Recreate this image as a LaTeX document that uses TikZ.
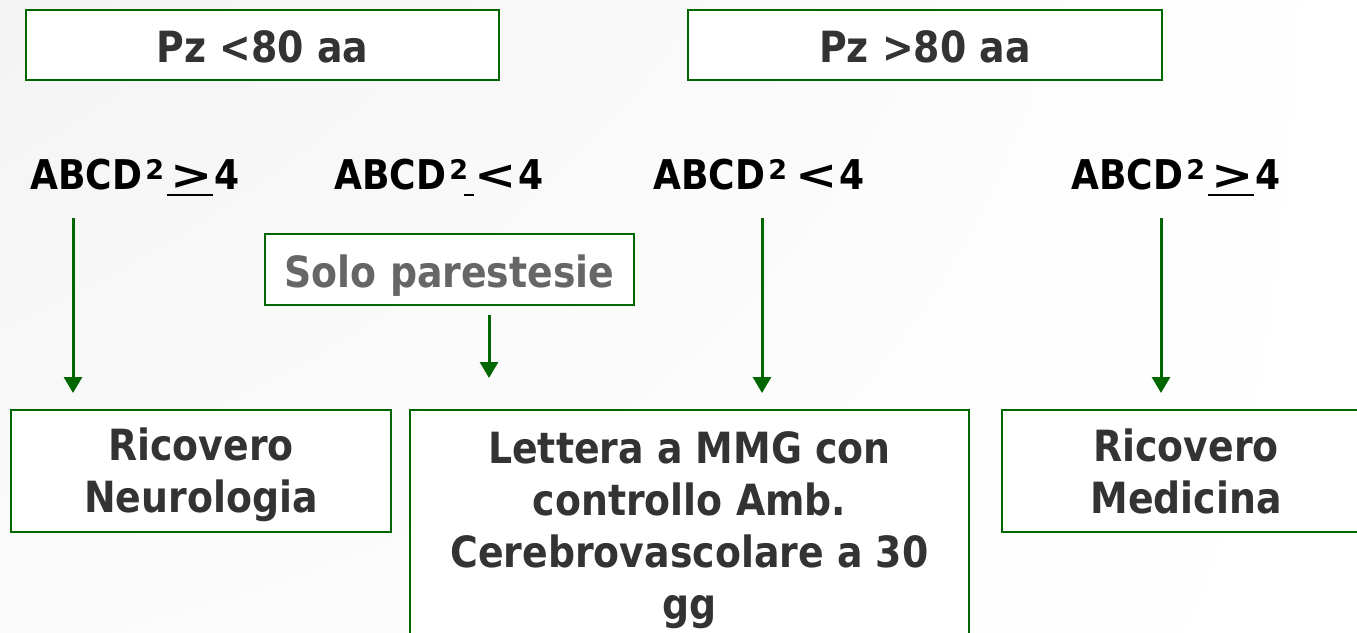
\documentclass[tikz,border=0pt]{standalone}
\usepackage{graphicx}
\usepackage{fontspec}
\setmainfont{DejaVu Sans}[FakeStretch=0.88]
\newfontfamily\supfont{DejaVu Sans}
\usetikzlibrary{arrows.meta,shadings}

\definecolor{boxgreen}{RGB}{0,102,0}
\definecolor{boxtext}{RGB}{51,51,51}
\definecolor{softtext}{RGB}{102,102,102}

% pieces of the ABCD2 score labels
\newcommand\sqtwo{\kern3pt\raisebox{10pt}{\supfont\bfseries\fontsize{27}{27}\selectfont 2}}
\newcommand\widesign[1]{\scalebox{1.4}[1]{#1}}
\newcommand\ulgeq{\rlap{\kern-3pt\rule[-6.5pt]{46pt}{2pt}}\widesign{>}}

\tikzset{
  frame/.style={draw=boxgreen, line width=2pt, fill=white, inner sep=0pt,
    align=center, text=boxtext, font=\fontsize{43}{52}\selectfont\bfseries},
  score/.style={font=\fontsize{41}{48}\selectfont\bfseries, text=black,
    inner sep=0pt, anchor=base},
  flow/.style={draw=boxgreen, line width=3pt,
    -{Triangle[width=18pt,length=16pt]}}
}

\begin{document}
\begin{tikzpicture}[x=1pt,y=-1pt]
  \useasboundingbox (0,0) rectangle (1357,632);
  \shade[upper left=gray!9, upper right=white, lower left=gray!3, lower right=white]
    (0,0) rectangle (1357,632);
  \clip (0,0) rectangle (1357,632);

  % age groups
  \node[frame, minimum width=473pt, minimum height=70pt] (young) at (262.5,45)
    {\rule{0pt}{36pt}Pz <80 aa};
  \node[frame, minimum width=474pt, minimum height=70pt] (old) at (925,45)
    {\rule{0pt}{36pt}Pz >80 aa};

  % ABCD2 score thresholds
  \node[score] (s1) at (135,189) {ABCD\sqtwo\kern6pt\ulgeq\kern2pt 4};
  \node[score] (s2) at (439,189)
    {ABCD\sqtwo\kern6pt\llap{\rule[-6.5pt]{10pt}{2pt}}\widesign{<}\kern2pt 4};
  \node[score] (s3) at (759,189) {ABCD\sqtwo\kern8pt\widesign{<}\kern2pt 4};
  \node[score] (s4) at (1176,189) {ABCD\sqtwo\kern6pt\ulgeq\kern2pt 4};

  % symptom box
  \node[frame, text=softtext, minimum width=369pt, minimum height=71pt] (solo)
    at (449.5,269.5) {\rule{0pt}{45pt}Solo parestesie};

  % outcomes
  \node[frame, minimum width=380pt, minimum height=122pt] (neuro)
    at (201,471) {\rule{0pt}{41pt}Ricovero\\Neurologia};
  \node[frame, minimum width=559pt, minimum height=231pt] (mmg)
    at (689.5,525.5)
    {\rule{0pt}{41pt}Lettera a MMG con\\controllo Amb.\\Cerebrovascolare a 30\\gg};
  \node[frame, minimum width=368pt, minimum height=122pt] (medic)
    at (1186,471) {Ricovero\\Medicina};

  % arrow ends
  \coordinate (a1s) at (73,218);   \coordinate (a1e) at (73,393);
  \coordinate (a2s) at (489,315);  \coordinate (a2e) at (489,378);
  \coordinate (a3s) at (762,218);  \coordinate (a3e) at (762,393);
  \coordinate (a4s) at (1161,218); \coordinate (a4e) at (1161,393);

  \draw[flow] (a1s) -- (a1e);
  \draw[flow] (a2s) -- (a2e);
  \draw[flow] (a3s) -- (a3e);
  \draw[flow] (a4s) -- (a4e);
\end{tikzpicture}
\end{document}
